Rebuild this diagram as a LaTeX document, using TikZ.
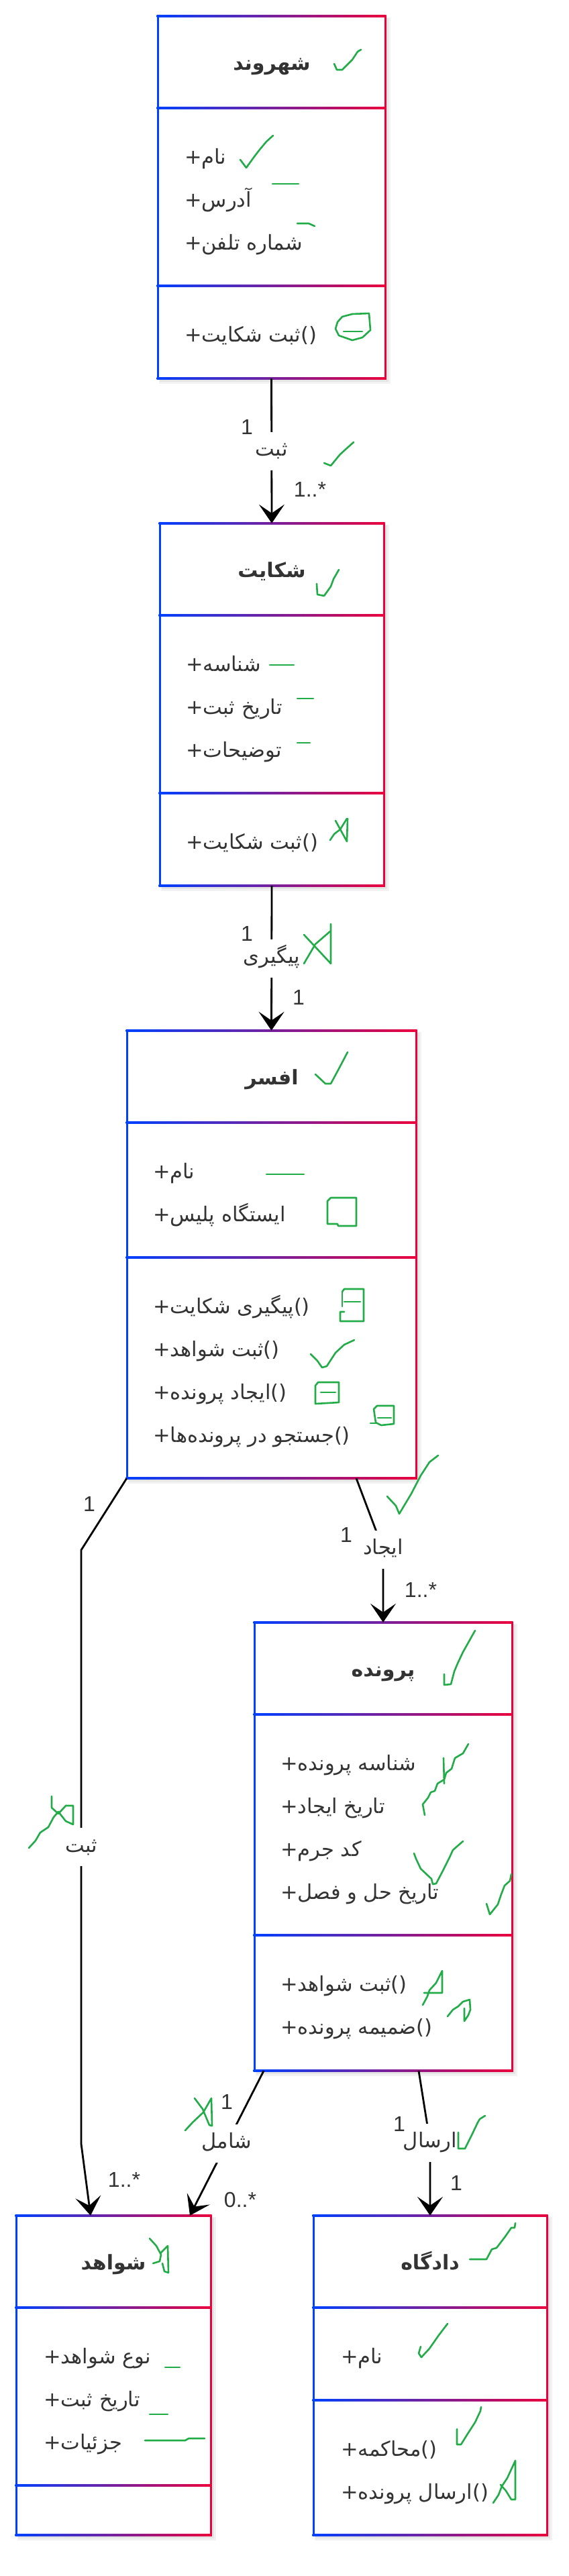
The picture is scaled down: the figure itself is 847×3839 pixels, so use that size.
\documentclass[tikz,border=0pt]{standalone}
\usepackage{fontspec}
\setmainfont{Liberation Sans}
\newfontfamily\arfont[Script=Arabic]{DejaVu Sans}
\TeXXeTstate=1
\usetikzlibrary{arrows.meta}
\definecolor{ublue}{RGB}{0,64,255}
\definecolor{ured}{RGB}{236,0,60}
\definecolor{tx}{RGB}{51,51,51}
\definecolor{mk}{RGB}{34,172,72}
\newcommand\AR[1]{\beginR #1\endR}
\newcommand\classbox[7]{%
  \fill[black,opacity=0.05] (#2+2,#4+2) rectangle (#3+8,#7+8);
  \fill[black,opacity=0.05] (#2+3,#4+3) rectangle (#3+5,#7+5);
  \fill[white] (#2,#4) rectangle (#3,#7);
  \node[inner sep=0pt, minimum width={#3-#2}, minimum height={#7-#4}] (#1) at ({(#2+#3)/2},{(#4+#7)/2}) {};
  \foreach \yy in {#4,#5,#6,#7} {\shade[left color=ublue,right color=ured] (#2-1.5,\yy-1.5) rectangle (#3+1.5,\yy+1.5);}
  \fill[ublue] (#2-1.5,#4-1.5) rectangle (#2+1.5,#7+1.5);
  \fill[ured] (#3-1.5,#4-1.5) rectangle (#3+1.5,#7+1.5);
}
\tikzset{
  hdr/.style={anchor=base, inner sep=0pt, text=tx, font=\arfont\bfseries\fontsize{30}{35}\selectfont},
  attr/.style={anchor=base west, inner sep=0pt, text=tx, font=\arfont\fontsize{30.5}{36}\selectfont},
  mult/.style={inner sep=0pt, text=tx, font=\fontsize{32}{38}\selectfont},
  lbl/.style={fill=white, inner xsep=4pt, inner ysep=12pt, text height=24pt, text depth=9pt, text=tx, font=\arfont\fontsize{30.5}{36}\selectfont},
  conn/.style={draw=black, line width=2.8pt, -{Stealth[length=28pt,width=38pt,inset=13pt]}},
  annot/.style={draw=mk, line width=2.6pt, line join=round, line cap=round},
}
\begin{document}
\begin{tikzpicture}[x=1pt,y=-1pt]
\useasboundingbox[fill=white] (0,0) rectangle (847,3839);

% class boxes
\classbox{box1}{235}{574}{24}{161}{426}{564}
\classbox{box2}{238}{572}{780}{917}{1182}{1320}
\classbox{box3}{189}{620}{1536}{1673}{1874}{2203}
\classbox{box4}{379}{763}{2418}{2555}{2884}{3086}
\classbox{box5}{24}{314}{3302}{3439}{3704}{3778}
\classbox{box6}{467}{815}{3302}{3439}{3577}{3778}

% headers
\node[hdr] (h1) at (405,104) {\AR{شهروند}};
\node[hdr] (h2) at (405,860) {\AR{شکایت}};
\node[hdr] (h3) at (405,1616) {\AR{افسر}};
\node[hdr] (h4) at (571,2498) {\AR{پرونده}};
\node[hdr] (h5) at (169,3382) {\AR{شواهد}};
\node[hdr] (h6) at (641,3382) {\AR{دادگاه}};

% box1
\node[attr] (a11) at (275,244) {+\AR{نام}};
\node[attr] (a12) at (275,308) {+\AR{آدرس}};
\node[attr] (a13) at (275,372) {+\AR{شماره تلفن}};
\node[attr] (m11) at (275,509) {+\AR{ثبت شکایت}()};
% box2
\node[attr] (a21) at (277,1000) {+\AR{شناسه}};
\node[attr] (a22) at (277,1064) {+\AR{تاریخ ثبت}};
\node[attr] (a23) at (277,1128) {+\AR{توضیحات}};
\node[attr] (m21) at (277,1265) {+\AR{ثبت شکایت}()};
% box3
\node[attr] (a31) at (228,1756) {+\AR{نام}};
\node[attr] (a32) at (228,1820) {+\AR{ایستگاه پلیس}};
\node[attr] (m31) at (228,1957) {+\AR{پیگیری شکایت}()};
\node[attr] (m32) at (228,2021) {+\AR{ثبت شواهد}()};
\node[attr] (m33) at (228,2085) {+\AR{ایجاد پرونده}()};
\node[attr] (m34) at (228,2149) {+\AR{جستجو در پرونده‌ها}()};
% box4
\node[attr] (a41) at (418,2638) {+\AR{شناسه پرونده}};
\node[attr] (a42) at (418,2702) {+\AR{تاریخ ایجاد}};
\node[attr] (a43) at (418,2766) {+\AR{کد جرم}};
\node[attr] (a44) at (418,2830) {+\AR{تاریخ حل و فصل}};
\node[attr] (m41) at (418,2967) {+\AR{ثبت شواهد}()};
\node[attr] (m42) at (418,3031) {+\AR{ضمیمه پرونده}()};
% box5
\node[attr] (a51) at (65,3522) {+\AR{نوع شواهد}};
\node[attr] (a52) at (65,3586) {+\AR{تاریخ ثبت}};
\node[attr] (a53) at (65,3650) {+\AR{جزئیات}};
% box6
\node[attr] (a61) at (508,3522) {+\AR{نام}};
\node[attr] (m61) at (508,3660) {+\AR{محاکمه}()};
\node[attr] (m62) at (508,3724) {+\AR{ارسال پرونده}()};

% connectors
\draw[conn] (box1.south) -- node[lbl] (c1) {\AR{ثبت}} (box2.north);
\draw[conn] (box2.south) -- node[lbl] (c2) {\AR{پیگیری}} (box3.north);
\draw[conn] (531,0 |- box3.south) -- (571,2309) node[lbl] (c3) {\AR{ایجاد}} -- (box4.north);
\draw[conn] (box3.south west) -- (121,2310) -- node[lbl] (c4) {\AR{ثبت}} (121,3195) -- (135,0 |- box5.north);
\draw[conn] (393,0 |- box4.south) -- node[lbl] (c5) {\AR{شامل}} (283,0 |- box5.north);
\draw[conn] (624,0 |- box4.south) -- (641,3193) node[lbl] (c6) {\AR{ارسال}} -- (box6.north);

% multiplicities
\node[mult] (n1) at (368,636) {1};
\node[mult] (n2) at (462,729) {1..*};
\node[mult] (n3) at (368,1391) {1};
\node[mult] (n4) at (445,1486) {1};
\node[mult] (n5) at (516,2287) {1};
\node[mult] (n6) at (627,2369) {1..*};
\node[mult] (n7) at (133,2241) {1};
\node[mult] (n8) at (185,3248) {1..*};
\node[mult] (n9) at (338,3132) {1};
\node[mult] (n10) at (358,3278) {0..*};
\node[mult] (n11) at (595,3165) {1};
\node[mult] (n12) at (680,3253) {1};

% green hand marks
\draw[annot] (498,95)--(502,104)--(510,104)--(525,89)--(533,77)--(538,74);
\draw[annot] (358,238)--(367,250)--(380,232)--(387,223)--(397,211)--(407,202);
\draw[annot] (406,274)--(445,274);
\draw[annot] (443,333)--(460,333)--(469,337);
\draw[annot] (503,480)--(510,472)--(525,468)--(550,467)--(552,492)--(540,503)--(525,507)--(505,500)--(500,490)--cycle;
\draw[annot] (512,494)--(540,494);
\draw[annot] (483,690)--(493,694)--(502,683)--(507,677)--(518,667)--(527,659);
\draw[annot] (472,870)--(473,886)--(483,888)--(493,874)--(497,863)--(505,849);
\draw[annot] (402,991)--(438,991);
\draw[annot] (443,1041)--(467,1041);
\draw[annot] (443,1107)--(462,1107);
\draw[annot] (492,1252)--(498,1243)--(507,1236)--(517,1220);
\draw[annot] (500,1223)--(517,1254)--(518,1220);
\draw[annot] (453,1436)--(470,1407)--(492,1388);
\draw[annot] (453,1393)--(493,1436)--(493,1377);
\draw[annot] (470,1601)--(485,1615)--(493,1615)--(507,1589)--(518,1568);
\draw[annot] (397,1750)--(453,1750);
\draw[annot] (488,1790)--(493,1785)--(531,1785)--(531,1827)--(504,1827)--(503,1824)--(488,1824)--cycle;
\draw[annot] (510,1925)--(513,1921)--(542,1921)--(542,1969)--(507,1969)--(507,1955)--(513,1955);
\draw[annot] (510,1925)--(510,1947);
\draw[annot] (513,1940)--(537,1940);
\draw[annot] (463,2018)--(473,2028)--(480,2038)--(487,2036)--(500,2016)--(513,2004)--(528,1997);
\draw[annot] (470,2065)--(474,2060)--(505,2060)--(505,2090)--(470,2092)--cycle;
\draw[annot] (478,2075)--(500,2075);
\draw[annot] (557,2100)--(562,2095)--(587,2095)--(587,2122)--(568,2124)--(560,2120)--cycle;
\draw[annot] (563,2113)--(583,2113);
\draw[annot] (552,2121)--(562,2121);
\draw[annot] (577,2230)--(590,2244)--(595,2256)--(613,2226)--(627,2199)--(640,2179)--(653,2169);
\draw[annot] (662,2495)--(662,2511)--(672,2510)--(677,2491)--(682,2479)--(690,2462)--(708,2430);
\draw[annot] (633,2705)--(630,2689)--(638,2679)--(642,2671)--(648,2669)--(652,2658)--(662,2652)--(665,2642)--(673,2636)--(678,2620)--(690,2613)--(698,2599);
\draw[annot] (661,2620)--(662,2658);
\draw[annot] (617,2762)--(620,2770)--(627,2785)--(643,2800)--(645,2808)--(650,2807)--(660,2788)--(670,2768)--(675,2757)--(690,2744);
\draw[annot] (725,2837)--(730,2853)--(742,2838)--(747,2823)--(752,2810)--(760,2803)--(762,2793);
\draw[annot] (630,2988)--(637,2975)--(640,2966)--(650,2955)--(659,2937)--(659,2970)--(632,2970);
\draw[annot] (667,3005)--(675,2995)--(683,2990)--(690,2983)--(700,2980)--(701,2995)--(698,3003)--(692,3012)--(692,2993);
\draw[annot] (43,2754)--(53,2743)--(60,2731)--(72,2723)--(80,2708)--(87,2700)--(98,2714)--(109,2719)--(109,2691)--(98,2691)--(87,2703)--(77,2694)--(77,2677);
\draw[annot] (276,3175)--(287,3163)--(303,3148)--(315,3127)--(316,3168)--(312,3167)--(302,3143)--(290,3127);
\draw[annot] (223,3336)--(233,3347)--(240,3360)--(238,3370)--(228,3373);
\draw[annot] (240,3357)--(250,3347)--(251,3387)--(245,3385)--(242,3373);
\draw[annot] (246,3528)--(268,3528);
\draw[annot] (223,3598)--(250,3598);
\draw[annot] (216,3637)--(276,3637)--(281,3634)--(305,3634);
\draw[annot] (683,3178)--(683,3202)--(693,3202)--(703,3182)--(712,3163)--(715,3158)--(723,3153);
\draw[annot] (700,3367)--(725,3367)--(733,3352)--(740,3350)--(753,3333)--(762,3320)--(767,3320)--(768,3313);
\draw[annot] (627,3497)--(624,3507)--(628,3513)--(640,3500)--(654,3480)--(667,3463);
\draw[annot] (681,3620)--(681,3643)--(687,3643)--(697,3627)--(708,3610)--(716,3593)--(717,3587);
\draw[annot] (735,3730)--(743,3718)--(748,3705)--(756,3693)--(768,3667)--(768,3725)--(762,3725)--(754,3712)--(746,3703);
\end{tikzpicture}
\end{document}
